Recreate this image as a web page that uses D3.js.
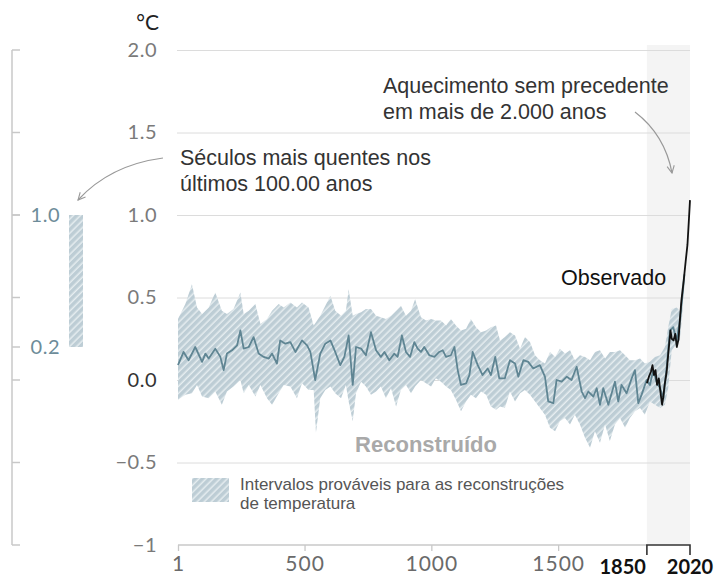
<!DOCTYPE html>
<html>
<head>
<meta charset="utf-8">
<script src="https://cdn.jsdelivr.net/npm/d3@7"></script>
<style>
  body { margin: 0; background: #fff; }
  svg { display: block; }
</style>
</head>
<body>
<svg id="chart" width="726" height="577"></svg>
<script>
// reconstructed band (likely range)
var bandYears = [1, 30, 56, 76, 96, 122, 148, 174, 194, 220, 247, 260, 280, 306, 326, 352, 372, 398, 418, 444,
  470, 490, 516, 536, 545, 562, 582, 602, 621, 644, 663, 674, 690, 703, 723, 742, 762, 782, 801, 821,
  841, 861, 880, 900, 920, 936, 959, 979, 999, 1018, 1038, 1058, 1077, 1097, 1117, 1137, 1156, 1176, 1196, 1216,
  1235, 1255, 1271, 1290, 1310, 1330, 1350, 1369, 1389, 1409, 1428, 1448, 1468, 1488, 1507, 1527, 1547, 1566, 1586, 1606,
  1626, 1645, 1665, 1685, 1704, 1724, 1744, 1764, 1783, 1803, 1823, 1842, 1862, 1882, 1902, 1921, 1934, 1948, 1967, 1980, 1991];
var bandUpper = [0.37, 0.46, 0.58, 0.44, 0.40, 0.44, 0.53, 0.42, 0.40, 0.43, 0.53, 0.40, 0.42, 0.46, 0.34, 0.37, 0.42, 0.46, 0.44, 0.47,
  0.44, 0.47, 0.44, 0.33, 0.35, 0.39, 0.45, 0.51, 0.42, 0.39, 0.42, 0.55, 0.39, 0.40, 0.41, 0.43, 0.43, 0.39, 0.38, 0.37,
  0.39, 0.42, 0.45, 0.39, 0.42, 0.49, 0.38, 0.36, 0.37, 0.36, 0.36, 0.33, 0.37, 0.33, 0.30, 0.31, 0.37, 0.32, 0.29, 0.30,
  0.32, 0.33, 0.24, 0.26, 0.29, 0.27, 0.19, 0.26, 0.23, 0.15, 0.12, 0.10, 0.17, 0.14, 0.19, 0.16, 0.18, 0.12, 0.15, 0.14,
  0.12, 0.17, 0.18, 0.13, 0.17, 0.17, 0.18, 0.15, 0.12, 0.12, 0.13, 0.10, 0.11, 0.14, 0.15, 0.20, 0.32, 0.43, 0.44, 0.42, 0.63];
var bandLower = [-0.12, -0.09, -0.08, -0.03, -0.10, -0.11, -0.07, -0.15, -0.07, -0.04, 0.00, -0.08, -0.03, -0.10, -0.03, -0.11, -0.15, -0.08, -0.03, -0.04,
  -0.11, -0.02, -0.06, -0.06, -0.32, -0.11, -0.06, -0.04, -0.08, -0.11, -0.03, -0.13, -0.25, -0.08, -0.01, -0.04, -0.09, -0.07, -0.04, -0.11,
  -0.05, -0.16, -0.06, -0.03, -0.08, -0.04, 0.00, -0.02, -0.04, 0.01, -0.01, -0.04, -0.06, -0.12, -0.19, -0.13, -0.09, -0.11, -0.07, -0.09,
  -0.16, -0.18, -0.16, -0.17, -0.07, -0.13, -0.08, -0.06, -0.09, -0.13, -0.17, -0.21, -0.29, -0.31, -0.25, -0.23, -0.27, -0.21, -0.27, -0.35,
  -0.41, -0.31, -0.38, -0.27, -0.37, -0.27, -0.23, -0.29, -0.23, -0.19, -0.17, -0.21, -0.13, -0.15, -0.17, -0.15, -0.05, 0.18, 0.22, 0.24, 0.42];

// reconstructed median
var medianYears = [1, 23, 43, 69, 96, 109, 122, 148, 168, 181, 194, 214, 234, 247, 260, 280, 299, 319, 339, 359,
  372, 391, 404, 424, 444, 464, 490, 510, 523, 542, 562, 582, 602, 621, 641, 657, 674, 690, 703, 723,
  742, 762, 782, 801, 815, 834, 854, 867, 884, 900, 916, 933, 946, 959, 972, 992, 1012, 1031, 1045, 1058,
  1077, 1091, 1104, 1117, 1137, 1150, 1163, 1183, 1202, 1222, 1235, 1252, 1268, 1290, 1310, 1330, 1343, 1363, 1382, 1402,
  1428, 1448, 1461, 1481, 1494, 1514, 1534, 1553, 1573, 1593, 1606, 1619, 1639, 1652, 1665, 1678, 1698, 1711, 1724, 1737,
  1750, 1770, 1790, 1803, 1816, 1829, 1849, 1862, 1875, 1888, 1902, 1915, 1928, 1941, 1954, 1967, 1980, 1991, 1998];
var medianValues = [0.09, 0.17, 0.12, 0.20, 0.11, 0.16, 0.13, 0.19, 0.14, 0.06, 0.16, 0.18, 0.21, 0.30, 0.19, 0.20, 0.26, 0.16, 0.14, 0.13,
  0.16, 0.10, 0.24, 0.22, 0.23, 0.17, 0.24, 0.21, 0.17, 0.00, 0.16, 0.22, 0.24, 0.17, 0.09, 0.14, 0.27, -0.03, 0.20, 0.19,
  0.15, 0.29, 0.18, 0.14, 0.17, 0.12, 0.16, 0.14, 0.27, 0.17, 0.14, 0.23, 0.19, 0.17, 0.20, 0.15, 0.14, 0.17, 0.18, 0.14,
  0.15, 0.20, 0.06, -0.03, -0.02, 0.03, 0.17, 0.09, 0.03, 0.07, 0.03, 0.14, 0.01, 0.01, 0.12, 0.10, 0.02, 0.12, 0.11, 0.07,
  0.09, 0.02, -0.13, -0.14, 0.00, -0.01, 0.02, 0.00, 0.08, -0.07, -0.11, -0.07, -0.10, -0.05, -0.15, -0.05, -0.15, -0.08, -0.01, -0.13,
  -0.03, -0.08, 0.01, 0.06, -0.14, -0.09, 0.00, -0.03, 0.06, -0.01, -0.05, -0.11, 0.08, 0.30, 0.32, 0.24, 0.36, 0.52, 0.64];

// observed
var observedYears = [1850, 1858, 1866, 1872, 1878, 1884, 1890, 1897, 1904, 1910, 1915, 1920, 1928, 1935, 1943, 1948, 1955, 1962, 1968, 1975,
  1980, 1986, 1995, 2003, 2010, 2016, 2020];
var observedValues = [-0.02, 0.02, 0.05, 0.09, 0.03, 0.06, -0.03, 0.01, -0.08, -0.15, -0.10, -0.03, 0.05, 0.17, 0.30, 0.25, 0.24, 0.28, 0.20, 0.25,
  0.36, 0.48, 0.60, 0.72, 0.82, 0.98, 1.09];

var yTicks = [-1, -0.5, 0, 0.5, 1, 1.5, 2];
var yTickLabels = ["\u22121", "\u22120.5", "0.0", "0.5", "1.0", "1.5", "2.0"];
var xTicks = [1, 500, 1000, 1500];
var recentYears = [1850, 2020];
var centuriesRange = [0.2, 1.0];

var svg = d3.select("#chart");

var x = d3.scaleLinear().domain([1, 2020]).range([178, 690]);
var y = d3.scaleLinear().domain([-1, 2]).range([545, 50]);

var defs = svg.append("defs");
var hatch = defs.append("pattern")
  .attr("id", "hatch")
  .attr("patternUnits", "userSpaceOnUse")
  .attr("width", 5)
  .attr("height", 5)
  .attr("patternTransform", "rotate(45)");
hatch.append("rect").attr("width", 5).attr("height", 5).attr("fill", "#e6edf0");
hatch.append("rect").attr("width", 3.5).attr("height", 5).attr("fill", "#bdcdd5");

defs.append("marker")
  .attr("id", "arrow")
  .attr("viewBox", "0 0 10 10")
  .attr("refX", 9).attr("refY", 5)
  .attr("markerWidth", 9).attr("markerHeight", 9)
  .attr("markerUnits", "userSpaceOnUse")
  .attr("orient", "auto")
  .append("path")
  .attr("d", "M1,1 L9,5 L1,9")
  .attr("fill", "none")
  .attr("stroke", "#999")
  .attr("stroke-width", 1.2);

// grey column for 1850-2020
svg.append("rect")
  .attr("x", x(1850))
  .attr("y", 45)
  .attr("width", x(2020) - x(1850))
  .attr("height", y(-1) - 45)
  .attr("fill", "#f4f4f4");

// gridlines
var grid = svg.append("g")
  .attr("transform", "translate(" + x(2020) + ",0)")
  .call(d3.axisLeft(y).tickValues(yTicks.filter(function(d) { return d > -1; })).tickSize(x(2020) - x(1) + 1).tickFormat(""));
grid.select(".domain").remove();
grid.selectAll("line").attr("stroke", "#dcdcdc");

// y labels
var yAxis = svg.append("g")
  .attr("transform", "translate(160,0)")
  .call(d3.axisLeft(y).tickValues(yTicks).tickSize(0).tickPadding(3)
    .tickFormat(function(d, i) { return yTickLabels[i]; }));
yAxis.select(".domain").remove();
yAxis.selectAll("text")
  .attr("font-family", "Lato, sans-serif")
  .attr("font-size", 20)
  .attr("letter-spacing", 0.5)
  .attr("fill", function(d) { return d === 0 ? "#333" : "#7a7a7a"; });

svg.append("text")
  .attr("x", 159).attr("y", 30)
  .attr("text-anchor", "end")
  .attr("font-family", "Lato, sans-serif")
  .attr("font-size", 21)
  .attr("fill", "#222")
  .text("\u00B0C");

// band
var band = bandYears.map(function(d, i) { return {year: d, up: bandUpper[i], lo: bandLower[i]}; });
svg.append("path")
  .datum(band)
  .attr("fill", "url(#hatch)")
  .attr("d", d3.area()
    .x(function(d) { return x(d.year); })
    .y0(function(d) { return y(d.lo); })
    .y1(function(d) { return y(d.up); }));

// median line
svg.append("path")
  .datum(medianYears.map(function(d, i) { return [d, medianValues[i]]; }))
  .attr("fill", "none")
  .attr("stroke", "#5f8593")
  .attr("stroke-width", 1.8)
  .attr("stroke-linejoin", "round")
  .attr("d", d3.line().x(function(d) { return x(d[0]); }).y(function(d) { return y(d[1]); }));

// observed
svg.append("path")
  .datum(observedYears.map(function(d, i) { return [d, observedValues[i]]; }))
  .attr("fill", "none")
  .attr("stroke", "#111")
  .attr("stroke-width", 1.8)
  .attr("stroke-linejoin", "round")
  .attr("d", d3.line().x(function(d) { return x(d[0]); }).y(function(d) { return y(d[1]); }));

// x axis
svg.append("line")
  .attr("x1", x(1)).attr("x2", x(1850))
  .attr("y1", y(-1)).attr("y2", y(-1))
  .attr("stroke", "#c8c8c8").attr("stroke-width", 1.3);
var xAxis = svg.append("g")
  .attr("transform", "translate(0," + y(-1) + ")")
  .call(d3.axisBottom(x).tickValues(xTicks).tickSize(6).tickPadding(5).tickFormat(d3.format("d")));
xAxis.select(".domain").remove();
xAxis.selectAll("line").attr("stroke", "#c8c8c8").attr("stroke-width", 1.3);
xAxis.selectAll("text")
  .attr("font-family", "Lato, sans-serif")
  .attr("font-size", 21)
  .attr("letter-spacing", 1)
  .attr("fill", "#6a6a6a");

// 1850-2020 bracket
svg.append("path")
  .attr("d", "M" + x(recentYears[0]) + "," + (y(-1) + 10) + "V" + y(-1) + "H" + x(recentYears[1]) + "V" + (y(-1) + 10))
  .attr("fill", "none")
  .attr("stroke", "#333")
  .attr("stroke-width", 1.6);
svg.selectAll(".recent")
  .data(recentYears)
  .enter().append("text")
  .attr("x", function(d, i) { return i === 0 ? x(d) - 1 : x(d); })
  .attr("y", 574)
  .attr("text-anchor", function(d, i) { return i === 0 ? "end" : "middle"; })
  .attr("font-family", "Lato, sans-serif")
  .attr("font-weight", "bold")
  .attr("font-size", 20)
  .attr("fill", "#111")
  .text(function(d) { return d; });

// left bracket axis
var leftAxis = svg.append("g");
leftAxis.append("line")
  .attr("x1", 12).attr("x2", 12)
  .attr("y1", y(2)).attr("y2", y(-1))
  .attr("stroke", "#c8c8c8").attr("stroke-width", 1.5);
leftAxis.selectAll(".lt")
  .data(yTicks.concat(centuriesRange))
  .enter().append("line")
  .attr("x1", 12).attr("x2", 20)
  .attr("y1", function(d) { return y(d); })
  .attr("y2", function(d) { return y(d); })
  .attr("stroke", "#c8c8c8").attr("stroke-width", 1.5);
leftAxis.selectAll(".ll")
  .data(centuriesRange)
  .enter().append("text")
  .attr("x", 60)
  .attr("y", function(d) { return y(d); })
  .attr("dy", "0.35em")
  .attr("text-anchor", "end")
  .attr("font-family", "Lato, sans-serif")
  .attr("font-size", 20)
  .attr("letter-spacing", 0.5)
  .attr("fill", "#6d8c99")
  .text(function(d) { return d3.format(".1f")(d); });
svg.append("rect")
  .attr("x", 69).attr("width", 14)
  .attr("y", y(centuriesRange[1]))
  .attr("height", y(centuriesRange[0]) - y(centuriesRange[1]))
  .attr("fill", "url(#hatch)");

// annotations
var ann = svg.append("g")
  .attr("font-family", "'Liberation Sans', Arial, sans-serif")
  .attr("font-size", 21.5)
  .attr("fill", "#333");
ann.append("text").attr("x", 383).attr("y", 93).text("Aquecimento sem precedente");
ann.append("text").attr("x", 383).attr("y", 119).text("em mais de 2.000 anos");
ann.append("text").attr("x", 180).attr("y", 165).text("S\u00e9culos mais quentes nos");
ann.append("text").attr("x", 180).attr("y", 191).text("\u00faltimos 100.00 anos");
ann.append("text").attr("x", 561).attr("y", 285).attr("fill", "#111").text("Observado");

svg.append("text")
  .attr("x", 426).attr("y", 452)
  .attr("text-anchor", "middle")
  .attr("font-family", "'Liberation Sans', Arial, sans-serif")
  .attr("font-weight", "bold")
  .attr("font-size", 22)
  .attr("fill", "#a9a9a9")
  .text("Reconstru\u00eddo");

svg.append("path")
  .attr("d", "M163,158 Q110,165 78,200")
  .attr("fill", "none").attr("stroke", "#999").attr("stroke-width", 1.2)
  .attr("marker-end", "url(#arrow)");
svg.append("path")
  .attr("d", "M635,112 Q665,135 672,173")
  .attr("fill", "none").attr("stroke", "#999").attr("stroke-width", 1.2)
  .attr("marker-end", "url(#arrow)");

// legend
svg.append("rect")
  .attr("x", 192).attr("y", 478).attr("width", 37).attr("height", 24)
  .attr("fill", "url(#hatch)");
var leg = svg.append("g")
  .attr("font-family", "'Liberation Sans', Arial, sans-serif")
  .attr("font-size", 17)
  .attr("fill", "#555");
leg.append("text").attr("x", 240).attr("y", 490).text("Intervalos prov\u00e1veis para as reconstru\u00e7\u00f5es");
leg.append("text").attr("x", 240).attr("y", 509).text("de temperatura");
</script>
</body>
</html>
